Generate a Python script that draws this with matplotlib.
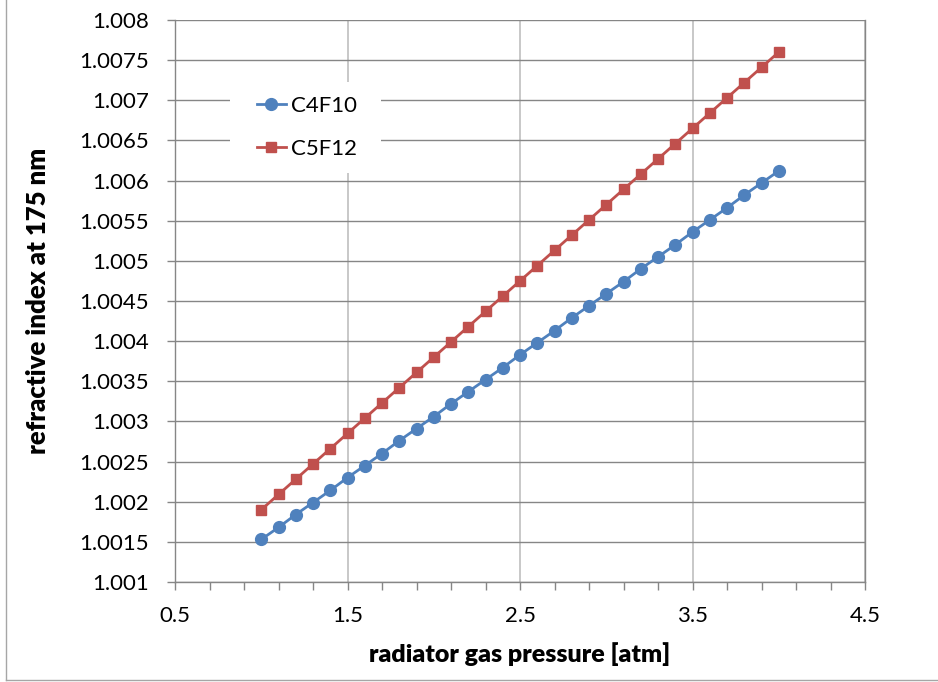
import matplotlib.pyplot as plt
from matplotlib.lines import Line2D
from matplotlib.patches import Rectangle
from matplotlib.ticker import MultipleLocator

plt.rcParams['font.family'] = ['Lato', 'DejaVu Sans']
plt.rcParams['font.size'] = 16

# data
pressure = [1.0, 1.1, 1.2, 1.3, 1.4, 1.5, 1.6, 1.7, 1.8, 1.9, 2.0,
            2.1, 2.2, 2.3, 2.4, 2.5, 2.6, 2.7, 2.8, 2.9, 3.0,
            3.1, 3.2, 3.3, 3.4, 3.5, 3.6, 3.7, 3.8, 3.9, 4.0]
n_c4f10 = [1.00153, 1.00168, 1.00184, 1.00199, 1.00214, 1.00230, 1.00245, 1.00260,
           1.00276, 1.00291, 1.00306, 1.00322, 1.00337, 1.00352, 1.00367, 1.00383,
           1.00398, 1.00413, 1.00429, 1.00444, 1.00459, 1.00474, 1.00490, 1.00505,
           1.00520, 1.00536, 1.00551, 1.00566, 1.00582, 1.00597, 1.00612]
n_c5f12 = [1.00190, 1.00209, 1.00228, 1.00247, 1.00266, 1.00285, 1.00304, 1.00323,
           1.00342, 1.00361, 1.00380, 1.00399, 1.00418, 1.00437, 1.00456, 1.00475,
           1.00494, 1.00513, 1.00532, 1.00551, 1.00570, 1.00589, 1.00608, 1.00627,
           1.00646, 1.00665, 1.00684, 1.00703, 1.00722, 1.00741, 1.00760]
y_ticks = [1.001, 1.0015, 1.002, 1.0025, 1.003, 1.0035, 1.004, 1.0045,
           1.005, 1.0055, 1.006, 1.0065, 1.007, 1.0075, 1.008]
y_tick_labels = ['1.001', '1.0015', '1.002', '1.0025', '1.003', '1.0035', '1.004', '1.0045',
                 '1.005', '1.0055', '1.006', '1.0065', '1.007', '1.0075', '1.008']
x_ticks = [0.5, 1.5, 2.5, 3.5, 4.5]

BLUE = '#4F81BD'
RED = '#C0504D'
GRID = '#868686'

fig = plt.figure(figsize=(9.38, 6.82), dpi=100)
ax = fig.add_axes([175 / 938, 1 - 582 / 682, 690 / 938, 562 / 682])

# chart area border (only left and bottom edges show in the crop)
bx = 6 / 938
by = 1 - 680 / 682
fig.add_artist(Line2D([bx, bx], [by, 1], transform=fig.transFigure,
                      color='#A6A6A6', linewidth=1))
fig.add_artist(Line2D([bx, 1], [by, by], transform=fig.transFigure,
                      color='#A6A6A6', linewidth=1))

ax.plot(pressure, n_c4f10, color=BLUE, linewidth=2.0, marker='o',
        markersize=8.5, label='C4F10', zorder=3)
ax.plot(pressure, n_c5f12, color=RED, linewidth=2.0, marker='s',
        markersize=7.5, label='C5F12', zorder=3)

ax.set_xlim(0.5, 4.5)
ax.set_ylim(1.001, 1.008)
ax.set_xticks(x_ticks)
ax.set_xticklabels([str(v) for v in x_ticks])
ax.xaxis.set_minor_locator(MultipleLocator(0.2, offset=0.1))
ax.set_yticks(y_ticks)
ax.set_yticklabels(y_tick_labels)

ax.grid(True, axis='y', color=GRID, linewidth=1)
ax.grid(True, axis='x', color='#BFBFBF', linewidth=1.2)
ax.set_axisbelow(True)
for side in ['left', 'bottom', 'right', 'top']:
    ax.spines[side].set_color(GRID)
    ax.spines[side].set_linewidth(1)
ax.spines['top'].set_visible(False)

ax.tick_params(axis='both', which='both', color=GRID, length=6, width=1)
ax.tick_params(axis='x', which='major', pad=11, labelsize=16)
ax.tick_params(axis='y', pad=13, labelsize=16)

ax.set_xlabel('radiator gas pressure [atm]', fontsize=18, fontweight='heavy')
ax.set_ylabel('refractive index at 175 nm', fontsize=18.5, fontweight='heavy')
ax.xaxis.set_label_coords(0.5, -0.107)
ax.yaxis.set_label_coords(-0.181, 0.5)

# white legend box that hides the gridlines behind it
ax.add_patch(Rectangle((0.0797, 0.7278), 0.219, 0.162, transform=ax.transAxes,
                       facecolor='white', edgecolor='none', zorder=2))
leg = ax.legend(loc='center left', bbox_to_anchor=(0.1188, 0.8087), frameon=False,
                fontsize=16, handlelength=1.3, labelspacing=1.05, borderpad=0,
                borderaxespad=0, handletextpad=0.22)

fig.savefig('out.png', dpi=100, facecolor='white')
